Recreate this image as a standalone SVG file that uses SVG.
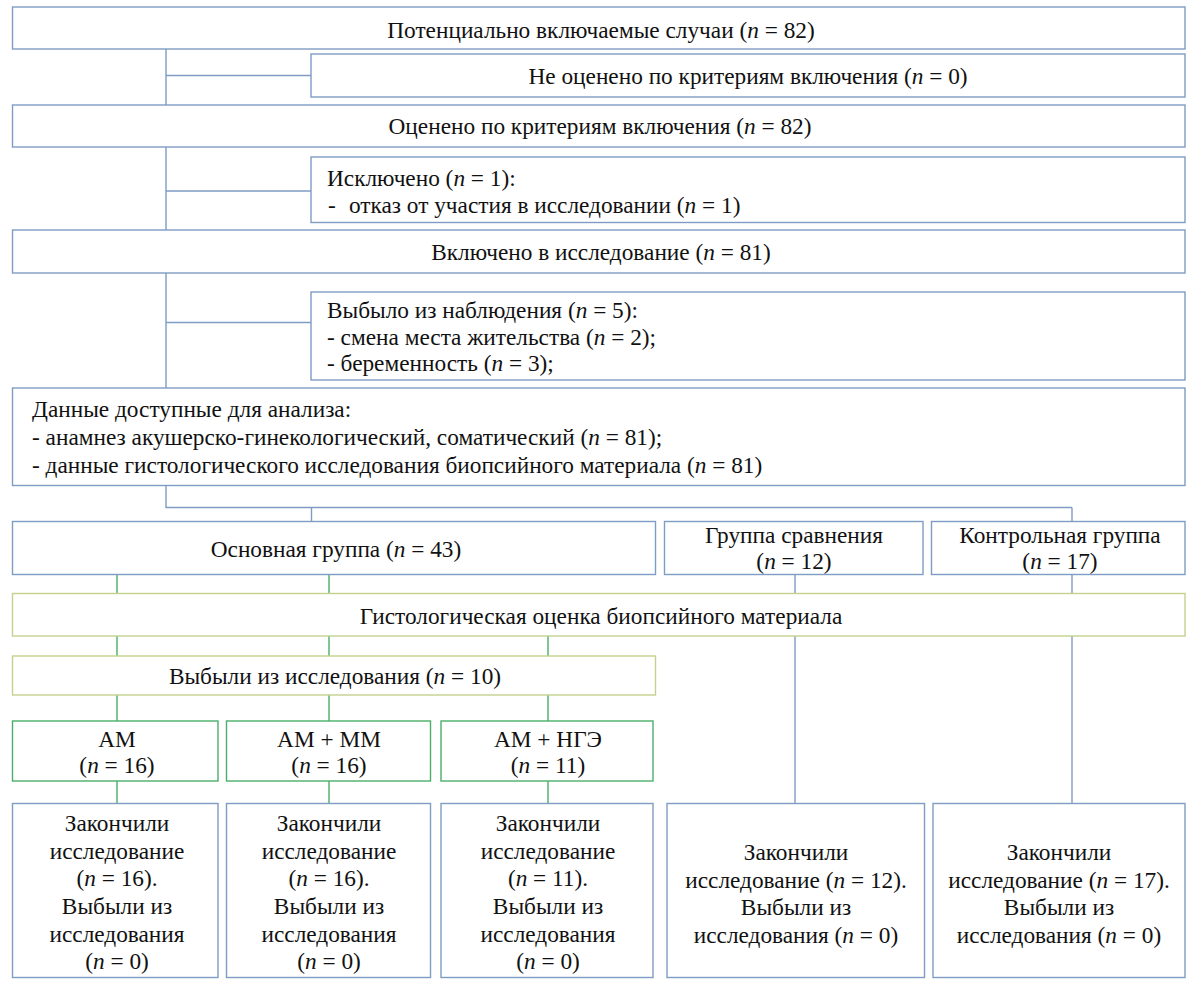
<svg xmlns="http://www.w3.org/2000/svg" width="1200" height="986" viewBox="0 0 1200 986">
<style>
.b{fill:#fff;stroke:#7f9cc4;stroke-width:1.4}
.o{fill:#fff;stroke:#c4d08c;stroke-width:1.4}
.g{fill:#fff;stroke:#4aae6a;stroke-width:1.4}
.cb{stroke:#7f9cc4;stroke-width:1.4;fill:none}
.cg{stroke:#4aae6a;stroke-width:1.4;fill:none}
.c{text-anchor:middle}
.i{font-style:italic}
</style>
<rect width="1200" height="986" fill="#fff"/>
<g id="connectors">
<path class="cb" d="M166 49V105M166 75.5H311M166 147V230M166 191H311M166 273V388M166 322.5H311M166 485.5V507.5H1072M311.5 507.5V521.5M1072 507.5V521.5M1072 574.5V593.5M1072 636V807M795 574.5V593.5M795 636V803.5"/>
<path class="cg" d="M117 574.5V593.5M329 574.5V593.5M117 636V656M329 636V656M548 636V656M117 695V721M329 695V721M548 695V721M117 781V803.5M329 781V803.5M548 781V803.5"/>
</g>
<g font-family="Liberation Serif, Times New Roman, serif" font-size="23.3" fill="#111">
<g id="n1"><rect class="b" x="12.5" y="7" width="1172.5" height="42"/><text class="c" x="601" y="38">Потенциально включаемые случаи (<tspan class="i">n</tspan> = 82)</text></g>
<g id="n2"><rect class="b" x="311" y="54" width="874" height="43"/><text class="c" x="748" y="83.5">Не оценено по критериям включения (<tspan class="i">n</tspan> = 0)</text></g>
<g id="n3"><rect class="b" x="12.5" y="105" width="1172.5" height="42"/><text class="c" x="600" y="134">Оценено по критериям включения (<tspan class="i">n</tspan> = 82)</text></g>
<g id="n4"><rect class="b" x="311" y="157" width="874" height="65.5"/><text x="327" y="186">Исключено (<tspan class="i">n</tspan> = 1):</text><text x="328" y="213">-</text><text x="349" y="213">отказ от участия в исследовании (<tspan class="i">n</tspan> = 1)</text></g>
<g id="n5"><rect class="b" x="12.5" y="230" width="1172.5" height="43"/><text class="c" x="601" y="260">Включено в исследование (<tspan class="i">n</tspan> = 81)</text></g>
<g id="n6"><rect class="b" x="311" y="292" width="874" height="88"/><text x="327" y="318">Выбыло из наблюдения (<tspan class="i">n</tspan> = 5):</text><text x="327" y="344.5">- смена места жительства (<tspan class="i">n</tspan> = 2);</text><text x="327" y="371">- беременность (<tspan class="i">n</tspan> = 3);</text></g>
<g id="n7"><rect class="b" x="12.5" y="388" width="1172.5" height="97.5"/><text x="32" y="417">Данные доступные для анализа:</text><text x="32" y="445">- анамнез акушерско-гинекологический, соматический (<tspan class="i">n</tspan> = 81);</text><text x="32" y="473">- данные гистологического исследования биопсийного материала (<tspan class="i">n</tspan> = 81)</text></g>
<g id="n8"><rect class="b" x="12.5" y="521.5" width="643" height="53"/><text class="c" x="336" y="556.5">Основная группа (<tspan class="i">n</tspan> = 43)</text></g>
<g id="n9"><rect class="b" x="664.5" y="521.5" width="258.5" height="53"/><text class="c" x="794" y="543">Группа сравнения</text><text class="c" x="794" y="569">(<tspan class="i">n</tspan> = 12)</text></g>
<g id="n10"><rect class="b" x="931.5" y="521.5" width="253.5" height="53"/><text class="c" x="1060" y="543">Контрольная группа</text><text class="c" x="1060" y="569">(<tspan class="i">n</tspan> = 17)</text></g>
<g id="n11"><rect class="o" x="12.5" y="593.5" width="1172.5" height="42.5"/><text class="c" x="601" y="624">Гистологическая оценка биопсийного материала</text></g>
<g id="n12"><rect class="o" x="12.5" y="656" width="643" height="39"/><text class="c" x="335" y="684">Выбыли из исследования (<tspan class="i">n</tspan> = 10)</text></g>
<g id="n13"><rect class="g" x="12.5" y="721" width="205.5" height="60"/><text class="c" x="117" y="747">АМ</text><text class="c" x="117" y="772.5">(<tspan class="i">n</tspan> = 16)</text></g>
<g id="n14"><rect class="g" x="226.5" y="721" width="204" height="60"/><text class="c" x="329" y="747">АМ + ММ</text><text class="c" x="329" y="772.5">(<tspan class="i">n</tspan> = 16)</text></g>
<g id="n15"><rect class="g" x="441" y="721" width="212" height="60"/><text class="c" x="548" y="747">АМ + НГЭ</text><text class="c" x="548" y="772.5">(<tspan class="i">n</tspan> = 11)</text></g>
<g id="n16"><rect class="b" x="12.5" y="803.5" width="205.5" height="174"/><text class="c" x="117" y="831">Закончили</text><text class="c" x="117" y="859">исследование</text><text class="c" x="117" y="886">(<tspan class="i">n</tspan> = 16).</text><text class="c" x="117" y="914">Выбыли из</text><text class="c" x="117" y="941.5">исследования</text><text class="c" x="117" y="969">(<tspan class="i">n</tspan> = 0)</text></g>
<g id="n17"><rect class="b" x="226.5" y="803.5" width="204" height="174"/><text class="c" x="329" y="831">Закончили</text><text class="c" x="329" y="859">исследование</text><text class="c" x="329" y="886">(<tspan class="i">n</tspan> = 16).</text><text class="c" x="329" y="914">Выбыли из</text><text class="c" x="329" y="941.5">исследования</text><text class="c" x="329" y="969">(<tspan class="i">n</tspan> = 0)</text></g>
<g id="n18"><rect class="b" x="441" y="803.5" width="212" height="174"/><text class="c" x="548" y="831">Закончили</text><text class="c" x="548" y="859">исследование</text><text class="c" x="548" y="886">(<tspan class="i">n</tspan> = 11).</text><text class="c" x="548" y="914">Выбыли из</text><text class="c" x="548" y="941.5">исследования</text><text class="c" x="548" y="969">(<tspan class="i">n</tspan> = 0)</text></g>
<g id="n19"><rect class="b" x="667" y="803.5" width="257.5" height="174"/><text class="c" x="796" y="860">Закончили</text><text class="c" x="796" y="888">исследование (<tspan class="i">n</tspan> = 12).</text><text class="c" x="796" y="915">Выбыли из</text><text class="c" x="796" y="943">исследования (<tspan class="i">n</tspan> = 0)</text></g>
<g id="n20"><rect class="b" x="933" y="803.5" width="252" height="174"/><text class="c" x="1059" y="860">Закончили</text><text class="c" x="1059" y="888">исследование (<tspan class="i">n</tspan> = 17).</text><text class="c" x="1059" y="915">Выбыли из</text><text class="c" x="1059" y="943">исследования (<tspan class="i">n</tspan> = 0)</text></g>
</g>
</svg>
